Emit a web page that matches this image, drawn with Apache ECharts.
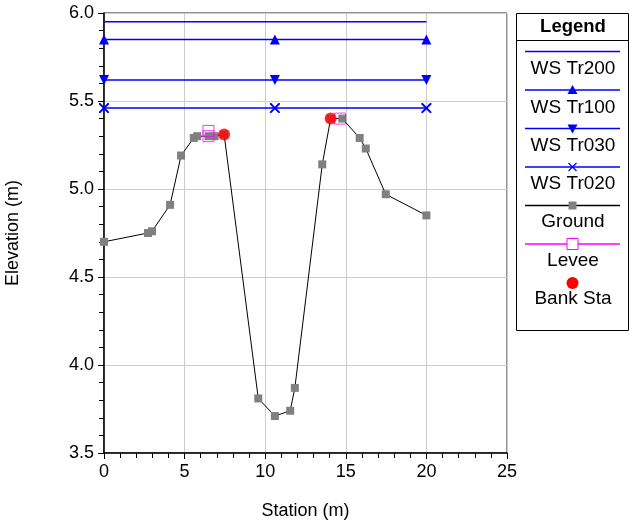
<!DOCTYPE html>
<html><head><meta charset="utf-8">
<script src="https://cdn.jsdelivr.net/npm/echarts@6/dist/echarts.min.js"></script>
<style>html,body{margin:0;padding:0;background:#fff}#c{width:629px;height:521px}</style>
</head><body><div id="c"></div>
<script>
var FONT = 'Liberation Sans, Arial, Helvetica, sans-serif';
var groundX = [0, 2.73, 2.98, 4.10, 4.78, 5.57, 5.78, 6.48, 6.86, 7.45, 9.57, 10.6, 11.55, 11.84, 13.54, 14.06, 14.78, 15.86, 16.24, 17.48, 20.0];
var groundY = [4.70, 4.75, 4.76, 4.91, 5.19, 5.29, 5.30, 5.30, 5.30, 5.31, 3.81, 3.71, 3.74, 3.87, 5.14, 5.40, 5.40, 5.29, 5.23, 4.97, 4.85];
var leveeX = [6.48, 6.48, 14.64];
var leveeY = [5.33, 5.30, 5.40];
var bankX = [7.45, 14.06];
var bankY = [5.31, 5.40];
var wsX = [0, 10.6, 20];
var wsTr200 = [5.95, 5.95, 5.95];
var wsTr100 = [5.85, 5.85, 5.85];
var wsTr030 = [5.62, 5.62, 5.62];
var wsTr020 = [5.46, 5.46, 5.46];
var xTicks = [0, 5, 10, 15, 20, 25];
var yTicks = [3.5, 4.0, 4.5, 5.0, 5.5, 6.0];
var legendNames = ['WS Tr200', 'WS Tr100', 'WS Tr030', 'WS Tr020', 'Ground', 'Levee', 'Bank Sta'];

function pairs(xs, ys){ return xs.map(function(x,i){ return [x, ys[i]]; }); }
var crossPath = 'path://M0,0L1.4,0L5,3.6L8.6,0L10,0L10,1.4L6.4,5L10,8.6L10,10L8.6,10L5,6.4L1.4,10L0,10L0,8.6L3.6,5L0,1.4Z';
var BLUE = '#0000ff';

var chart = echarts.init(document.getElementById('c'), null, {renderer:'canvas'});

// legend graphic
var g = [];
var lx0 = 516, ly0 = 13, lw = 112, lh = 317;
g.push({type:'rect', shape:{x:lx0+0.5, y:ly0+0.5, width:lw, height:lh}, style:{fill:'#fff', stroke:'#000', lineWidth:1}, z:100});
g.push({type:'line', shape:{x1:lx0, y1:40.5, x2:lx0+lw, y2:40.5}, style:{stroke:'#000', lineWidth:1}, z:101});
g.push({type:'text', x:573, y:27, style:{text:'Legend', font:'bold 18.5px '+FONT, fill:'#000', align:'center', verticalAlign:'middle'}, z:101});
var lineYs = [51.5, 90, 128.5, 167, 205.5, 244, 283];
var textYs = [69, 108, 146, 184, 222, 261, 299];
var lineColors = [BLUE, BLUE, BLUE, BLUE, '#000', '#ff00ff', null];
var mx = 572.5;
for (var i = 0; i < legendNames.length; i++) {
  if (lineColors[i]) g.push({type:'line', shape:{x1:525, y1:lineYs[i], x2:620, y2:lineYs[i]}, style:{stroke:lineColors[i], lineWidth:1.5}, z:101});
  g.push({type:'text', x:mx+0.5, y:textYs[i], style:{text:legendNames[i], font:'19px '+FONT, fill:'#000', align:'center', verticalAlign:'middle'}, z:101});
}
var ty = lineYs[1];
g.push({type:'polygon', shape:{points:[[mx-5,ty+4],[mx+5,ty+4],[mx,ty-5]]}, style:{fill:BLUE}, z:102});
ty = lineYs[2];
g.push({type:'polygon', shape:{points:[[mx-5,ty-4],[mx+5,ty-4],[mx,ty+5]]}, style:{fill:BLUE}, z:102});
ty = lineYs[3];
g.push({type:'line', shape:{x1:mx-4, y1:ty-4, x2:mx+4, y2:ty+4}, style:{stroke:BLUE, lineWidth:1.2}, z:102});
g.push({type:'line', shape:{x1:mx-4, y1:ty+4, x2:mx+4, y2:ty-4}, style:{stroke:BLUE, lineWidth:1.2}, z:102});
ty = lineYs[4];
g.push({type:'rect', shape:{x:mx-4, y:ty-4, width:8, height:8}, style:{fill:'#808080'}, z:102});
ty = lineYs[5];
g.push({type:'rect', shape:{x:mx-5.5, y:ty-5.5, width:11, height:11}, style:{fill:'#fff', stroke:'#ff00ff', lineWidth:1}, z:102});
ty = lineYs[6];
g.push({type:'circle', shape:{cx:mx, cy:ty, r:6}, style:{fill:'#ff0000'}, z:102});

function wsSeries(name, ys, symbol, rotate, show){
  return {name:name, type:'line', data:pairs(wsX, ys), symbol:symbol, symbolSize:10, symbolRotate:rotate, showSymbol:show,
    lineStyle:{color:BLUE, width:1.5}, itemStyle:{color:BLUE}, z:3, silent:true, animation:false};
}

chart.setOption({
  animation:false,
  textStyle:{fontFamily:FONT},
  grid:{left:104, right:122, top:13, bottom:68, show:true, borderColor:'#222', borderWidth:1, containLabel:false, outerBoundsMode:'none'},
  xAxis:{type:'value', min:xTicks[0], max:xTicks[xTicks.length-1], interval:5,
    name:'Station (m)', nameLocation:'middle', nameGap:49, nameTextStyle:{fontSize:18, color:'#000', fontFamily:FONT},
    axisLine:{onZero:false, lineStyle:{color:'#000', width:1.5}},
    axisTick:{show:true, length:6, lineStyle:{color:'#000'}},
    minorTick:{show:true, splitNumber:5, length:5, lineStyle:{color:'#000'}},
    axisLabel:{fontSize:18, color:'#000', margin:10, fontFamily:FONT},
    splitLine:{show:true, lineStyle:{color:'#cccccc', width:1}}},
  yAxis:{type:'value', min:yTicks[0], max:yTicks[yTicks.length-1], interval:0.5,
    name:'Elevation (m)', nameLocation:'middle', nameGap:82, nameRotate:90, nameTextStyle:{fontSize:18, color:'#000', fontFamily:FONT},
    axisLine:{show:true, onZero:false, lineStyle:{color:'#000', width:1.5}},
    axisTick:{show:true, length:6, lineStyle:{color:'#000'}},
    minorTick:{show:true, splitNumber:5, length:5, lineStyle:{color:'#000'}},
    axisLabel:{fontSize:18, color:'#000', margin:10, fontFamily:FONT, formatter:function(v){return v.toFixed(1);}},
    splitLine:{show:true, lineStyle:{color:'#cccccc', width:1}}},
  graphic:g,
  series:[
    wsSeries('WS Tr200', wsTr200, 'none', 0, false),
    wsSeries('WS Tr100', wsTr100, 'triangle', 0, true),
    wsSeries('WS Tr030', wsTr030, 'triangle', 180, true),
    wsSeries('WS Tr020', wsTr020, crossPath, 0, true),
    {name:'Ground', type:'line', data:pairs(groundX, groundY), symbol:'rect', symbolSize:8, showSymbol:true,
      lineStyle:{color:'#000', width:1}, itemStyle:{color:'#808080'}, z:4},
    {name:'Levee', type:'scatter', data:pairs(leveeX, leveeY), symbol:'rect', symbolSize:11,
      itemStyle:{color:'rgba(0,0,0,0)', borderColor:'#ff00ff', borderWidth:1}, z:5},
    {name:'Bank Sta', type:'scatter', data:pairs(bankX, bankY), symbol:'circle', symbolSize:12,
      itemStyle:{color:'#ff0000'}, z:6}
  ]
});
</script></body></html>
